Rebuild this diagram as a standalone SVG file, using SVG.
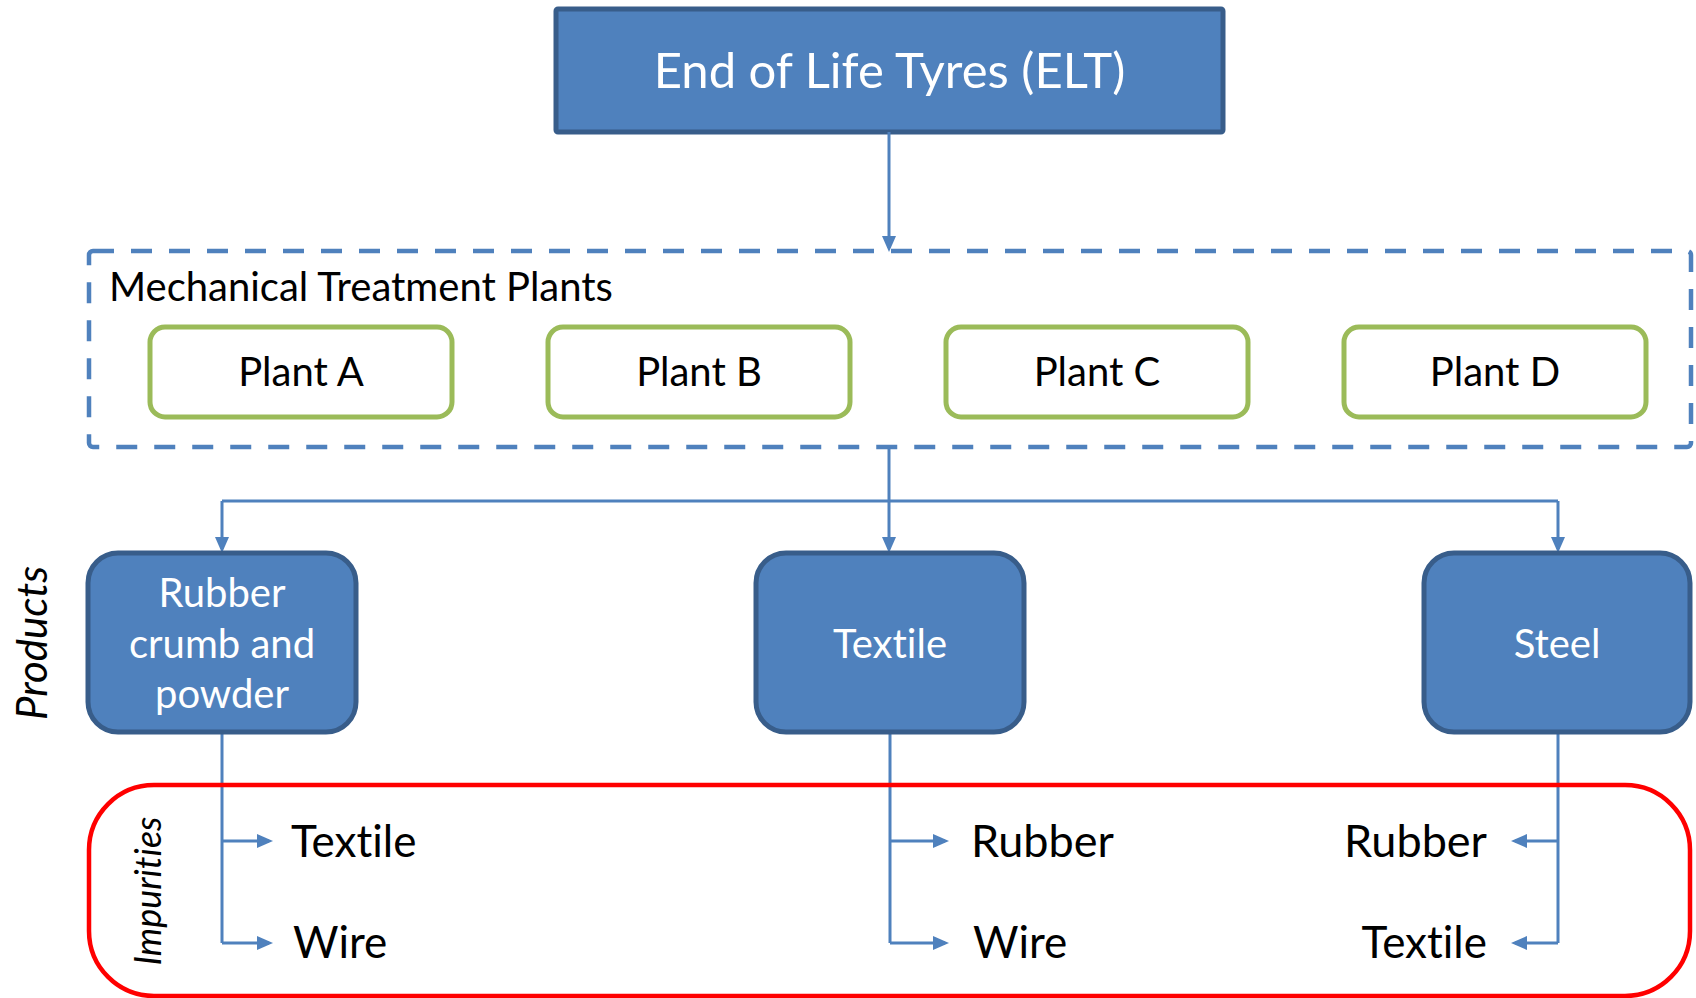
<svg xmlns="http://www.w3.org/2000/svg" width="1696" height="998" viewBox="0 0 1696 998">
<style>
.t{font-family:Lato,"Liberation Sans",sans-serif;font-variant-ligatures:none;font-feature-settings:"liga" 0;}
.w{fill:#ffffff;}
.k{fill:#000000;}
.prod{fill:#4f81bd;stroke:#385d8a;stroke-width:5;}
.plant{fill:#ffffff;stroke:#9bbb59;stroke-width:5;}
.conn{fill:none;stroke:#4f81bd;stroke-width:3;}
</style>
<defs>
<marker id="ah" markerUnits="userSpaceOnUse" markerWidth="17" markerHeight="15" refX="12" refY="7" orient="auto">
<path d="M0,0 L16,7 L0,14 z" fill="#4f81bd"/>
</marker>
</defs>
<rect x="0" y="0" width="1696" height="998" fill="#ffffff"/>

<g id="elt">
<rect x="556" y="9" width="667" height="123" rx="2" class="prod" stroke-width="4"/>
<text class="t w" x="889.5" y="88" font-size="49" text-anchor="middle">End of Life Tyres (ELT)</text>
</g>

<g id="mtp">
<rect x="89" y="251" width="1602" height="196" rx="4" fill="none" stroke="#4f81bd" stroke-width="4.5" stroke-dasharray="21 17"/>
<text class="t k" x="109" y="301" font-size="40">Mechanical Treatment Plants</text>
</g>
<g id="plantA"><rect x="150" y="327" width="302" height="90" rx="15" class="plant"/><text class="t k" x="301" y="386" font-size="40" text-anchor="middle">Plant A</text></g>
<g id="plantB"><rect x="548" y="327" width="302" height="90" rx="15" class="plant"/><text class="t k" x="699" y="386" font-size="40" text-anchor="middle">Plant B</text></g>
<g id="plantC"><rect x="946" y="327" width="302" height="90" rx="15" class="plant"/><text class="t k" x="1097" y="386" font-size="40" text-anchor="middle">Plant C</text></g>
<g id="plantD"><rect x="1344" y="327" width="302" height="90" rx="15" class="plant"/><text class="t k" x="1495" y="386" font-size="40" text-anchor="middle">Plant D</text></g>

<g id="connectors">
<line x1="889" y1="132" x2="889" y2="248" class="conn" marker-end="url(#ah)"/>
<path d="M889,447 V501" class="conn"/>
<path d="M222,501 H1558" class="conn"/>
<line x1="222" y1="501" x2="222" y2="549" class="conn" marker-end="url(#ah)"/>
<line x1="889" y1="501" x2="889" y2="549" class="conn" marker-end="url(#ah)"/>
<line x1="1558" y1="501" x2="1558" y2="549" class="conn" marker-end="url(#ah)"/>
<path d="M222,732 V943" class="conn"/>
<line x1="222" y1="841" x2="269" y2="841" class="conn" marker-end="url(#ah)"/>
<line x1="222" y1="943" x2="269" y2="943" class="conn" marker-end="url(#ah)"/>
<path d="M890,732 V943" class="conn"/>
<line x1="890" y1="841" x2="945" y2="841" class="conn" marker-end="url(#ah)"/>
<line x1="890" y1="943" x2="945" y2="943" class="conn" marker-end="url(#ah)"/>
<path d="M1558,732 V943" class="conn"/>
<line x1="1558" y1="841" x2="1515" y2="841" class="conn" marker-end="url(#ah)"/>
<line x1="1558" y1="943" x2="1515" y2="943" class="conn" marker-end="url(#ah)"/>
</g>

<g id="products-label">
<text class="t k" transform="translate(47,643) rotate(-90)" font-size="42" font-style="italic" text-anchor="middle">Products</text>
</g>

<g id="rubber">
<rect x="88" y="553" width="268" height="179" rx="30" class="prod"/>
<text class="t w" x="222" font-size="40" text-anchor="middle"><tspan x="222" y="607">Rubber</tspan><tspan x="222" y="658">crumb and</tspan><tspan x="222" y="708">powder</tspan></text>
</g>
<g id="textile">
<rect x="756" y="553" width="268" height="179" rx="30" class="prod"/>
<text class="t w" x="890" y="658" font-size="40" text-anchor="middle">Textile</text>
</g>
<g id="steel">
<rect x="1424" y="553" width="266" height="179" rx="30" class="prod"/>
<text class="t w" x="1557" y="658" font-size="40" text-anchor="middle">Steel</text>
</g>

<g id="impurities">
<rect x="89" y="785" width="1601" height="211" rx="65" fill="none" stroke="#ff0000" stroke-width="4.5"/>
<text class="t k" transform="translate(161,891) rotate(-90)" font-size="36" font-style="italic" text-anchor="middle">Impurities</text>
</g>
<g id="imp-rubber">
<text class="t k" x="291" y="857" font-size="44">Textile</text>
<text class="t k" x="293" y="958" font-size="44">Wire</text>
</g>
<g id="imp-textile">
<text class="t k" x="971" y="857" font-size="45">Rubber</text>
<text class="t k" x="973" y="958" font-size="44">Wire</text>
</g>
<g id="imp-steel">
<text class="t k" x="1487" y="857" font-size="45" text-anchor="end">Rubber</text>
<text class="t k" x="1487" y="958" font-size="44" text-anchor="end">Textile</text>
</g>
</svg>
